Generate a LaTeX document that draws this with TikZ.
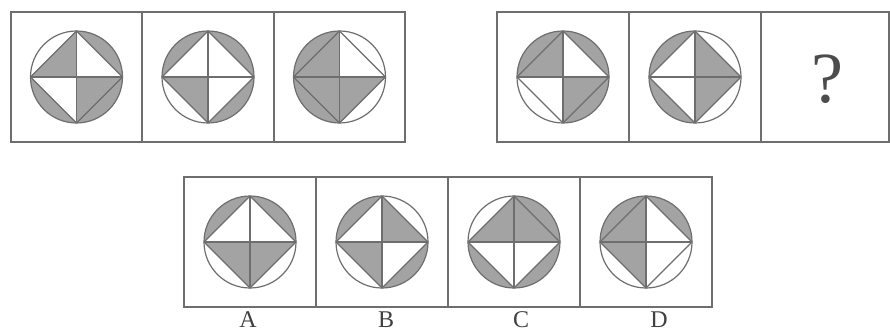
\documentclass[tikz,border=0pt]{standalone}
\usepackage{fontspec}
\setmainfont{Liberation Serif}
\definecolor{linegray}{HTML}{6E6E6E}
\definecolor{fillgray}{HTML}{A3A3A3}
\tikzset{
  cell/.style = {draw=linegray, line width=1.3pt},
  shd/.style  = {fill=fillgray},
  ln/.style   = {draw=linegray, line width=1.2pt, line join=round},
  lbl/.style  = {font=\fontsize{24}{24}\selectfont, text=black!75, anchor=base, inner sep=0pt},
}
% #1 centre, #2 grey segments, #3 grey triangles (0=NE,1=NW,2=SW,3=SE)
\newcommand{\motif}[3]{%
  \begin{scope}[shift={#1}]
    \foreach \q in {#2}
      \fill[shd] (90*\q:46) arc[start angle=90*\q, end angle=90*\q+90, radius=46] -- cycle;
    \foreach \q in {#3}
      \fill[shd] (0,0) -- (90*\q:46) -- (90*\q+90:46) -- cycle;
    \draw[ln] (0,0) circle[radius=46];
    \draw[ln] (46,0) -- (0,46) -- (-46,0) -- (0,-46) -- cycle;
    \draw[ln] (-46,0) -- (46,0) (0,-46) -- (0,46);
  \end{scope}}

\begin{document}
\begin{tikzpicture}[x=1pt, y=1pt]
  \useasboundingbox (0,0) rectangle (890,332);
  % given row, left part
  \draw[cell] (11,190) rectangle (405,320);
  \foreach \x in {142,274} \draw[cell] (\x,190) -- (\x,320);
  \motif{(76.5,255)}{0,2,3}{1,3}
  \motif{(208,255)}{0,1,3}{2}
  \motif{(339.5,255)}{1,2}{1,2,3}
  % given row, right part
  \draw[cell] (497,190) rectangle (889,320);
  \foreach \x in {629,761} \draw[cell] (\x,190) -- (\x,320);
  \motif{(563,255)}{0,1,3}{1,3}
  \motif{(695,255)}{1,2}{0,3}
  \node[anchor=base, inner sep=0pt, text=black!70,
        font=\fontsize{72}{72}\selectfont] (qm) at (827,229) {?};
  % choices
  \draw[cell] (184,25) rectangle (712,155);
  \foreach \x in {316,448,580} \draw[cell] (\x,25) -- (\x,155);
  \motif{(250,90)}{0,1}{2,3}
  \motif{(382,90)}{1,3}{0,2}
  \motif{(514,90)}{0,2,3}{0,1}
  \motif{(646,90)}{0,1}{1,2}
  \node[lbl] (la) at (248,5) {A};
  \node[lbl] (lb) at (386,5) {B};
  \node[lbl] (lc) at (521,5) {C};
  \node[lbl] (ld) at (659,5) {D};
\end{tikzpicture}
\end{document}
